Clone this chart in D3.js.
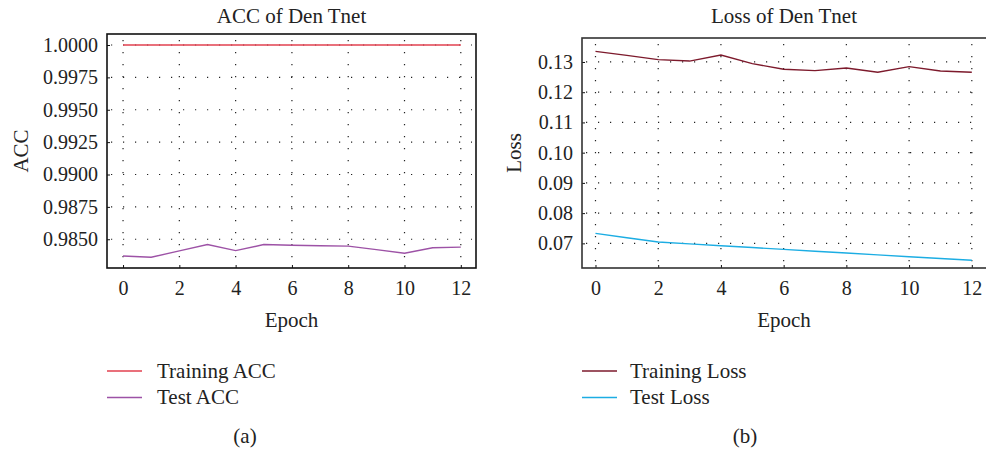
<!DOCTYPE html>
<html>
<head>
<meta charset="utf-8">
<script src="https://cdn.jsdelivr.net/npm/d3@7"></script>
<style>
  body { margin: 0; background: #fff; }
  svg { display: block; font-family: "Liberation Serif", "DejaVu Serif", serif; }
  .grid line { stroke: #222; stroke-width: 1.2; stroke-dasharray: 1.2 10.8; }
  .axis line { stroke: #111; }
</style>
</head>
<body>
<svg id="chart" width="986" height="453"></svg>
<script>
// data
var epochs = [0,1,2,3,4,5,6,7,8,9,10,11,12];
var trainAcc = [1,1,1,1,1,1,1,1,1,1,1,1,1];
var testAcc = [0.98371,0.98361,0.98410,0.98459,0.98412,0.98459,0.98454,0.98450,0.98447,0.98420,0.98392,0.98434,0.98439];
var trainLoss = [0.13352,0.13220,0.13077,0.13030,0.13231,0.12945,0.12758,0.12714,0.12802,0.12659,0.12846,0.12703,0.12659];
var testLoss = [0.07330,0.07187,0.07044,0.06984,0.06923,0.06862,0.06802,0.06741,0.06681,0.06620,0.06558,0.06500,0.06440];

var epochTicks = [0,2,4,6,8,10,12];
var accTicks = [0.9850,0.9875,0.9900,0.9925,0.9950,0.9975,1.0000];
var lossTicks = [0.07,0.08,0.09,0.10,0.11,0.12,0.13];

var svg = d3.select("#chart");
var serif = "'Liberation Serif', 'DejaVu Serif', serif";

function panel(opt){
	var x = d3.scaleLinear().domain(opt.xDomain).range([opt.left, opt.right]);
	var y = d3.scaleLinear().domain(opt.yDomain).range([opt.bottom, opt.top]);
	var g = svg.append("g");
	var mid = (opt.left + Math.min(opt.right, 986)) / 2;

	// dotted grid
	var grid = g.append("g").attr("class","grid");
	grid.selectAll("line.v").data(epochTicks).enter().append("line")
		.attr("class","v")
		.attr("x1", function(d){ return x(d); }).attr("x2", function(d){ return x(d); })
		.attr("y1", opt.top + 6).attr("y2", opt.bottom);
	grid.selectAll("line.h").data(opt.yTicks).enter().append("line")
		.attr("class","h")
		.attr("x1", opt.left + 4).attr("x2", opt.gridRight)
		.attr("y1", function(d){ return y(d); }).attr("y2", function(d){ return y(d); });

	// axes
	var xa = g.append("g").attr("class","axis")
		.attr("transform","translate(0,"+opt.bottom+")")
		.call(d3.axisBottom(x).tickValues(epochTicks).tickSizeInner(-3).tickSizeOuter(0).tickPadding(13).tickFormat(d3.format("d")));
	var ya = g.append("g").attr("class","axis")
		.attr("transform","translate("+opt.left+",0)")
		.call(d3.axisLeft(y).tickValues(opt.yTicks).tickSizeInner(-3).tickSizeOuter(0).tickPadding(9).tickFormat(d3.format(opt.fmt)));
	[xa, ya].forEach(function(a){
		a.select(".domain").remove();
		a.attr("font-family", serif).attr("font-size", 20);
		a.selectAll("text").style("font-family", serif).style("font-size", "20px").attr("fill", "#222");
	});

	// lines
	var line = d3.line()
		.x(function(d,i){ return x(epochs[i]); })
		.y(function(d){ return y(d); });
	opt.series.forEach(function(s){
		g.append("path").datum(s.values)
			.attr("d", line)
			.attr("fill","none")
			.attr("stroke", s.color)
			.attr("stroke-width", 1.4);
	});

	// frame
	g.append("rect")
		.attr("x", opt.left).attr("y", opt.top)
		.attr("width", opt.right - opt.left).attr("height", opt.bottom - opt.top)
		.attr("fill","none").attr("stroke", opt.frameColor).attr("stroke-width", 1.6);

	// titles
	g.append("text")
		.attr("x", mid).attr("y", 22.5)
		.attr("text-anchor","middle").attr("font-size", 21).attr("fill","#222")
		.text(opt.title);
	g.append("text")
		.attr("x", mid).attr("y", 327)
		.attr("text-anchor","middle").attr("font-size", 21).attr("fill","#222")
		.text("Epoch");
	g.append("text")
		.attr("transform","translate("+opt.yLabelX+","+((opt.top+opt.bottom)/2)+") rotate(-90)")
		.attr("text-anchor","middle").attr("font-size", 21).attr("fill","#222")
		.text(opt.yLabel);

	// legend
	var leg = g.selectAll("g.leg").data(opt.series).enter().append("g")
		.attr("class","leg")
		.attr("transform", function(d,i){ return "translate("+opt.legX+","+(371 + i*26.5)+")"; });
	leg.append("line")
		.attr("x1", 0).attr("x2", opt.legLen)
		.attr("stroke", function(d){ return d.color; }).attr("stroke-width", 1.6);
	leg.append("text")
		.attr("x", opt.legText).attr("y", 6.5)
		.attr("font-size", 21).attr("fill","#222")
		.text(function(d){ return d.name; });

	g.append("text")
		.attr("x", opt.capX).attr("y", 443)
		.attr("text-anchor","middle").attr("font-size", 21).attr("fill","#222")
		.text(opt.caption);
}

panel({
	left: 107, right: 476, top: 34, bottom: 268, gridRight: 472,
	xDomain: [-0.57, 12.54], yDomain: [0.98278, 1.00085],
	yTicks: accTicks, fmt: ".4f", frameColor: "#111",
	title: "ACC of Den Tnet", yLabel: "ACC", yLabelX: 28,
	legX: 107, legLen: 35, legText: 50, capX: 245, caption: "(a)",
	series: [
		{name: "Training ACC", color: "#e2404f", values: trainAcc},
		{name: "Test ACC", color: "#9d52a6", values: testAcc}
	]
});

panel({
	left: 582, right: 990, top: 38, bottom: 268, gridRight: 980,
	xDomain: [-0.43, 12.58], yDomain: [0.06185, 0.13793],
	yTicks: lossTicks, fmt: ".2f", frameColor: "#333",
	title: "Loss of Den Tnet", yLabel: "Loss", yLabelX: 521,
	legX: 582, legLen: 35, legText: 48, capX: 745, caption: "(b)",
	series: [
		{name: "Training Loss", color: "#7d1a2c", values: trainLoss},
		{name: "Test Loss", color: "#1cade3", values: testLoss}
	]
});
</script>
</body>
</html>
